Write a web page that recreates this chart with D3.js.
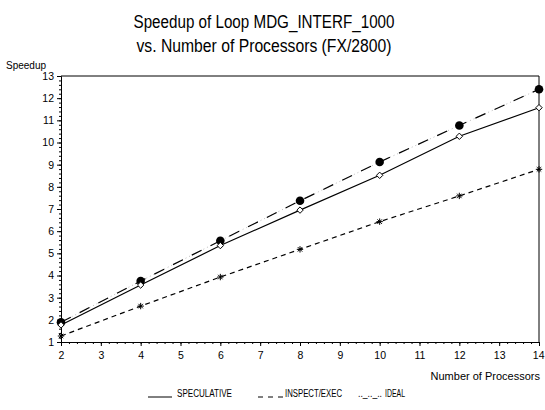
<!DOCTYPE html>
<html><head><meta charset="utf-8">
<script src="https://cdn.jsdelivr.net/npm/d3@7"></script>
<style>body{margin:0;background:#fff}svg{display:block}text{font-family:"Liberation Sans",Arial,sans-serif;fill:#000}</style>
</head><body><svg id="c" width="545" height="410"></svg>
<script>
const processors = [2,4,6,8,10,12,14];
const speculative = [1.77,3.57,5.35,6.95,8.52,10.28,11.57];
const inspectExec = [1.89,3.75,5.57,7.37,9.12,10.77,12.4];
const ideal = [1.27,2.62,3.93,5.18,6.43,7.59,8.79];
const xTicks = [2,3,4,5,6,7,8,9,10,11,12,13,14];
const yTicks = [1,2,3,4,5,6,7,8,9,10,11,12,13];
const titleLines = ["Speedup of Loop MDG_INTERF_1000","vs. Number of Processors (FX/2800)"];

const svg = d3.select("#c");
const x = d3.scaleLinear().domain([2,14]).range([61,539]);
const y = d3.scaleLinear().domain([1,13]).range([342,76]);

// titles
svg.append("text").attr("x",264).attr("y",28).attr("text-anchor","middle")
  .attr("font-size",18).attr("textLength",261).attr("lengthAdjust","spacingAndGlyphs").text(titleLines[0]);
svg.append("text").attr("x",264).attr("y",52).attr("text-anchor","middle")
  .attr("font-size",18).attr("textLength",255).attr("lengthAdjust","spacingAndGlyphs").text(titleLines[1]);

// frame
svg.append("path").attr("d",`M${x(2)},${y(13)}H${x(14)}V${y(1)}`).attr("fill","none").attr("stroke","#000").attr("stroke-width",1);

// y axis
const minorY = d3.range(1,13.001,0.2);
svg.append("g").attr("transform",`translate(${x(2)},0)`)
  .call(d3.axisLeft(y).tickValues(minorY).tickSize(2).tickFormat(""))
  .call(g=>g.select(".domain").remove());
svg.append("g").attr("transform",`translate(${x(2)},0)`)
  .call(d3.axisLeft(y).tickValues(yTicks).tickSize(4).tickPadding(3).tickFormat(d3.format("d")))
  .call(g=>g.selectAll("text").attr("font-size",10.5).attr("font-family","Liberation Sans,Arial,sans-serif"));
// x axis
const minorX = d3.range(2,14.001,0.2);
svg.append("g").attr("transform",`translate(0,${y(1)})`)
  .call(d3.axisBottom(x).tickValues(minorX).tickSize(2).tickFormat(""))
  .call(g=>g.select(".domain").remove());
svg.append("g").attr("transform",`translate(0,${y(1)})`)
  .call(d3.axisBottom(x).tickValues(xTicks).tickSize(4).tickPadding(6).tickFormat(d3.format("d")))
  .call(g=>g.selectAll("text").attr("font-size",10.5).attr("font-family","Liberation Sans,Arial,sans-serif"))
  .call(g=>g.selectAll(".tick:last-of-type text").attr("text-anchor","end").attr("dx","5"));

svg.append("text").attr("x",6).attr("y",69).attr("font-size",10).text("Speedup");
svg.append("text").attr("x",540).attr("y",380).attr("text-anchor","end").attr("font-size",11).text("Number of Processors");

const line = d3.line().x((d,i)=>x(processors[i])).y(d=>y(d));
// inspect/exec: gray dots under black long dashes
svg.append("path").attr("d",line(inspectExec)).attr("fill","none").attr("stroke","#bbb").attr("stroke-width",1).attr("stroke-dasharray","1 3");
svg.append("path").attr("d",line(inspectExec)).attr("fill","none").attr("stroke","#000").attr("stroke-width",1.2).attr("stroke-dasharray","11 10");
svg.append("path").attr("d",line(speculative)).attr("fill","none").attr("stroke","#000").attr("stroke-width",1.2);
svg.append("path").attr("d",line(ideal)).attr("fill","none").attr("stroke","#000").attr("stroke-width",1.2).attr("stroke-dasharray","5 4");

// markers
svg.append("g").selectAll("circle").data(inspectExec).join("circle")
  .attr("cx",(d,i)=>x(processors[i])).attr("cy",d=>y(d)).attr("r",4.3).attr("fill","#000");
svg.append("g").selectAll("path").data(speculative).join("path")
  .attr("d",(d,i)=>{const cx=x(processors[i]),cy=y(d),r=3.2;return `M${cx},${cy-r}L${cx+r},${cy}L${cx},${cy+r}L${cx-r},${cy}Z`;})
  .attr("fill","#fff").attr("stroke","#000").attr("stroke-width",1);
svg.append("g").selectAll("path").data(ideal).join("path")
  .attr("d",(d,i)=>{const cx=x(processors[i]),cy=y(d),r=3.2,s=r*0.7;return `M${cx-r},${cy}H${cx+r}M${cx},${cy-r}V${cy+r}M${cx-s},${cy-s}L${cx+s},${cy+s}M${cx-s},${cy+s}L${cx+s},${cy-s}`;})
  .attr("stroke","#000").attr("stroke-width",1);

// legend
const ly = 397;
const leg = svg.append("g").attr("font-size",10);
leg.append("line").attr("x1",148).attr("x2",172).attr("y1",ly).attr("y2",ly).attr("stroke","#000");
leg.append("text").attr("x",177).attr("y",ly).attr("textLength",55).attr("lengthAdjust","spacingAndGlyphs").text("SPECULATIVE");
leg.append("line").attr("x1",258).attr("x2",283).attr("y1",ly).attr("y2",ly).attr("stroke","#000").attr("stroke-dasharray","5 5");
leg.append("text").attr("x",285).attr("y",ly).attr("textLength",57).attr("lengthAdjust","spacingAndGlyphs").text("INSPECT/EXEC");
leg.append("text").attr("x",358).attr("y",ly).attr("textLength",24).attr("lengthAdjust","spacingAndGlyphs").text(".._.._..");
leg.append("text").attr("x",385).attr("y",ly).attr("textLength",20).attr("lengthAdjust","spacingAndGlyphs").text("IDEAL");
</script></body></html>
